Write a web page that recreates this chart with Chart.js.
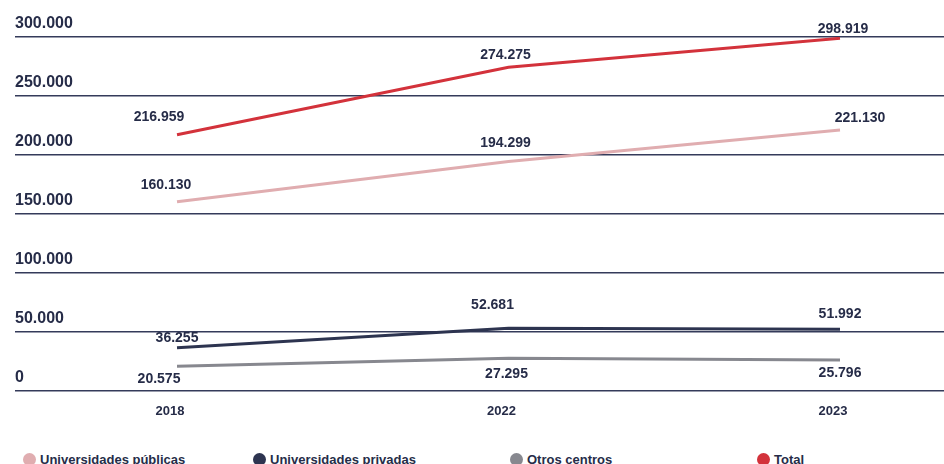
<!DOCTYPE html>
<html>
<head>
<meta charset="utf-8">
<script src="https://cdn.jsdelivr.net/npm/chart.js@4.4.0/dist/chart.umd.min.js"></script>
<style>
  html, body { margin: 0; padding: 0; background: #fff; overflow: hidden; }
  body { width: 944px; height: 464px; position: relative; }
  #wrap { position: absolute; left: 0; top: 0; width: 944px; height: 432px; }
  #legend { position: absolute; left: 0; top: 452px; width: 944px; height: 20px;
    font-family: "Liberation Sans", Arial, sans-serif;
    font-weight: bold; font-size: 13px; color: #262c48; }
  .item { position: absolute; top: 0; white-space: nowrap; line-height: 16px; }
  .dot { display: inline-block; width: 13px; height: 13px; border-radius: 50%;
    vertical-align: -2px; margin-right: 4px; }
</style>
</head>
<body>
<div id="wrap"><canvas id="chart" width="944" height="432"></canvas></div>
<div id="legend"></div>
<script>
// chart data
const years = ["2018", "2022", "2023"];
const publicas = [160130, 194299, 221130];
const privadas = [36255, 52681, 51992];
const otros = [20575, 27295, 25796];
const total = [216959, 274275, 298919];
const yTicks = [0, 50000, 100000, 150000, 200000, 250000, 300000];

const seriesNames = ["Universidades públicas", "Universidades privadas", "Otros centros", "Total"];
const seriesColors = ["#e0adb0", "#2d3450", "#87888f", "#d3323b"];

const textColor = "#262c48";
const fontFamily = '"Liberation Sans", Arial, sans-serif';

// label offsets (px) from each point, per series, per year
const labelOffsets = [
    [[-11, -17], [-3, -18], [20, -12]],
    [[0, -10], [-16, -23], [0, -15]],
    [[-18, 13], [-2, 16], [0, 13]],
    [[-18, -18], [-3, -12], [3, -9]]
];
// legend item left positions
const legendLeft = [23, 253, 510, 757];

function fmt(v) {
    return v.toString().replace(/\B(?=(\d{3})+(?!\d))/g, ".");
}

function toPoints(values) {
    return values.map((v, i) => ({ x: i, y: v }));
}

const seriesValues = [publicas, privadas, otros, total];

// draw the value labels next to each point
const valueLabels = {
    id: "valueLabels",
    afterDatasetsDraw(chart) {
        const ctx = chart.ctx;
        ctx.save();
        ctx.font = "bold 14px " + fontFamily;
        ctx.fillStyle = textColor;
        ctx.textAlign = "center";
        ctx.textBaseline = "middle";
        chart.data.datasets.forEach((ds, di) => {
            const meta = chart.getDatasetMeta(di);
            meta.data.forEach((pt, i) => {
                const off = labelOffsets[di][i];
                ctx.fillText(fmt(ds.data[i].y), pt.x + off[0], pt.y + off[1]);
            });
        });
        ctx.restore();
    }
};

const ctx = document.getElementById("chart").getContext("2d");
new Chart(ctx, {
    type: "line",
    data: {
        datasets: seriesValues.map((vals, i) => ({
            label: seriesNames[i],
            data: toPoints(vals),
            borderColor: seriesColors[i],
            backgroundColor: seriesColors[i],
            borderWidth: 3,
            pointRadius: 0,
            tension: 0,
            fill: false
        }))
    },
    options: {
        responsive: false,
        animation: false,
        layout: { padding: { top: 37, left: 15, right: 0, bottom: 0 } },
        plugins: {
            legend: { display: false },
            tooltip: { enabled: false }
        },
        scales: {
            x: {
                type: "linear",
                min: -0.4887,
                max: 2.3137,
                afterBuildTicks(scale) {
                    scale.ticks = years.map((y, i) => ({ value: i }));
                },
                grid: { display: false, drawTicks: false },
                border: { display: false },
                ticks: {
                    padding: 13,
                    labelOffset: -7,
                    color: textColor,
                    font: { family: fontFamily, size: 13, weight: "bold" },
                    callback: (v) => years[v]
                }
            },
            y: {
                min: 0,
                max: 300000,
                afterBuildTicks(scale) {
                    scale.ticks = yTicks.map((v) => ({ value: v }));
                },
                grid: { color: "#343b5a", lineWidth: 1.5, drawTicks: false },
                border: { display: false },
                ticks: {
                    mirror: true,
                    padding: 0,
                    labelOffset: -13,
                    color: textColor,
                    font: { family: fontFamily, size: 16, weight: "bold" },
                    callback: (v) => fmt(v)
                }
            }
        }
    },
    plugins: [valueLabels]
});

// legend
const legend = document.getElementById("legend");
seriesNames.forEach((name, i) => {
    const item = document.createElement("div");
    item.className = "item";
    item.style.left = legendLeft[i] + "px";
    item.innerHTML = '<span class="dot" style="background:' + seriesColors[i] + '"></span>' + name;
    legend.appendChild(item);
});
</script>
</body>
</html>
